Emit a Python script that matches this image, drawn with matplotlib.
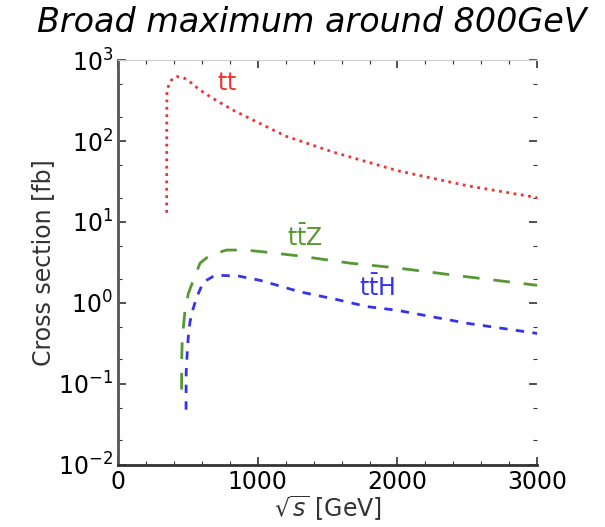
import numpy as np
import matplotlib
matplotlib.use("Agg")
import matplotlib.pyplot as plt
from matplotlib.ticker import LogLocator, MultipleLocator

# --- data (sqrt(s) in GeV, sigma in fb) ---
tt_x = [348, 349, 350, 360, 372, 400, 420, 466, 500, 587, 700, 825, 1000, 1200, 1540, 2000, 2500, 3000]
tt_y = [13, 100, 390, 470, 540, 610, 625, 610, 565, 425, 320, 240, 170, 115, 73, 43, 28, 20]

ttz_x = [455, 456, 460, 470, 480, 503, 539, 587, 659, 778, 900, 1000, 1300, 1660, 2000, 2500, 3000]
ttz_y = [0.085, 0.2, 0.35, 0.55, 0.81, 1.3, 1.9, 3.1, 3.9, 4.5, 4.5, 4.35, 3.8, 3.1, 2.7, 2.1, 1.65]

tth_x = [487, 488, 496, 503, 515, 534, 563, 610, 695, 860, 1017, 1303, 1567, 1783, 2000, 2500, 3000]
tth_y = [0.048, 0.14, 0.25, 0.38, 0.58, 0.81, 1.17, 1.8, 2.2, 2.15, 1.9, 1.37, 1.1, 0.9, 0.81, 0.56, 0.42]

fig = plt.figure(figsize=(6.05, 5.27), dpi=100)
ax = fig.add_axes([0.195, 0.118, 0.693, 0.768])

ax.plot(tt_x, tt_y, color="#ee3333", linestyle=":", linewidth=2)
ax.plot(ttz_x, ttz_y, color="#559933", linestyle=(0, (6, 5)), linewidth=2)
ax.plot(tth_x, tth_y, color="#3333ee", linestyle=(0, (3, 3)), linewidth=2)

ax.text(780, 520, r"$\mathrm{tt}$", color="#ee3333", fontsize=17, ha="center", va="center")
ax.text(1340, 6.5, r"$\mathrm{t\bar{t}Z}$", color="#559933", fontsize=17, ha="center", va="center")
ax.text(1855, 1.55, r"$\mathrm{t\bar{t}H}$", color="#3333ee", fontsize=17, ha="center", va="center")

ax.set_yscale("log")
ax.set_xlim(0, 3000)
ax.set_ylim(1e-2, 1e3)
ax.xaxis.set_major_locator(MultipleLocator(1000))
ax.xaxis.set_minor_locator(MultipleLocator(200))
ax.yaxis.set_major_locator(LogLocator(base=10, numticks=10))
ax.yaxis.set_minor_locator(LogLocator(base=10, subs=(2, 5), numticks=10))

ax.tick_params(which="both", direction="in", top=True, right=True, labelsize=17, colors="#333333")
ax.tick_params(which="major", length=6, width=1.2)
ax.tick_params(which="minor", length=3, width=0.8)
for lbl in ax.get_xticklabels() + ax.get_yticklabels():
    lbl.set_color("black")

ax.spines["left"].set_color("#555555")
ax.spines["left"].set_linewidth(2)
ax.spines["bottom"].set_color("#333333")
ax.spines["bottom"].set_linewidth(2)
ax.spines["top"].set_color("#cccccc")
ax.spines["right"].set_visible(False)

ax.set_ylabel("Cross section [fb]", fontsize=17, color="#333333", labelpad=2)
ax.set_xlabel(r"$\sqrt{s}$ [GeV]", fontsize=17, color="#333333", labelpad=0)
fig.text(0.515, 0.958, "Broad maximum around 800GeV", fontsize=24, style="italic",
         ha="center", va="center")

fig.savefig("out.png", dpi=100)
